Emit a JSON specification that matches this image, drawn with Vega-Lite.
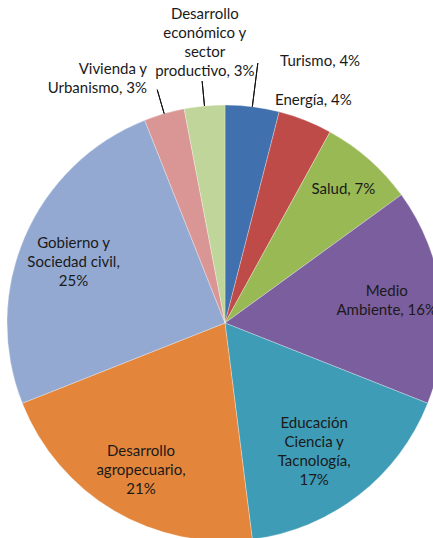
{
  "$schema": "https://vega.github.io/schema/vega-lite/v6.json",
  "width": 450,
  "height": 646,
  "autosize": "none",
  "padding": 0,
  "background": "white",
  "config": {"view": {"stroke": null}, "text": {"font": "Lato", "fontSize": 15, "color": "#1a1a1a", "lineHeight": 19}},
  "data": {"values": [
    {"k": 1, "cat": "Turismo", "label": ["Turismo, 4%"], "value": 4, "grp": "turismo"},
    {"k": 2, "cat": "Energía", "label": ["Energía, 4%"], "value": 4, "grp": "energia"},
    {"k": 3, "cat": "Salud", "label": ["Salud, 7%"], "value": 7, "grp": "in1"},
    {"k": 4, "cat": "Medio Ambiente", "label": ["Medio", "Ambiente, 16%"], "value": 16, "grp": "in2"},
    {"k": 5, "cat": "Educación Ciencia y Tacnología", "label": ["Educación", "Ciencia y", "Tacnología,", "17%"], "value": 17, "grp": "in4"},
    {"k": 6, "cat": "Desarrollo agropecuario", "label": ["Desarrollo", "agropecuario,", "21%"], "value": 21, "grp": "in3"},
    {"k": 7, "cat": "Gobierno y Sociedad civil", "label": ["Gobierno y", "Sociedad civil,", "25%"], "value": 25, "grp": "in3"},
    {"k": 8, "cat": "Vivienda y Urbanismo", "label": ["Vivienda y", "Urbanismo, 3%"], "value": 3, "grp": "vivienda"},
    {"k": 9, "cat": "Desarrollo económico y sector productivo", "label": ["Desarrollo", "económico y", "sector", "productivo, 3%"], "value": 3, "grp": "economico"}
  ]},
  "transform": [
    {"stack": "value", "groupby": [], "sort": [{"field": "k"}], "as": ["v0", "v1"]},
    {"calculate": "(datum.v0 + datum.v1) / 2", "as": "mid"}
  ],
  "layer": [
    {
      "mark": {"type": "arc", "radius": 218, "stroke": "white", "strokeWidth": 0.3},
      "encoding": {
        "theta": {"field": "v0", "type": "quantitative", "scale": {"domain": [0, 100], "range": [0, 6.283185307]}},
        "theta2": {"field": "v1"},
        "color": {"field": "cat", "type": "nominal", "legend": null, "sort": {"field": "k"},
          "scale": {"domain": ["Turismo", "Energía", "Salud", "Medio Ambiente", "Educación Ciencia y Tacnología", "Desarrollo agropecuario", "Gobierno y Sociedad civil", "Vivienda y Urbanismo", "Desarrollo económico y sector productivo"],
            "range": ["#4170AE", "#BE4B48", "#98B954", "#7A5E9E", "#3F9CB6", "#E3863C", "#93A9D2", "#D99694", "#BFD599"]}}
      }
    },
    {
      "transform": [{"filter": "datum.grp == 'vivienda' || datum.grp == 'economico'"}],
      "mark": {"type": "arc", "radius": 218, "radius2": 243, "stroke": "#111", "strokeWidth": 1, "fill": null},
      "encoding": {
        "theta": {"field": "mid", "type": "quantitative", "scale": {"domain": [0, 100], "range": [0, 6.283185307]}},
        "theta2": {"field": "mid"}
      }
    },
    {
      "transform": [{"filter": "datum.grp == 'turismo'"}],
      "mark": {"type": "arc", "radius": 218, "radius2": 262, "stroke": "#111", "strokeWidth": 1, "fill": null},
      "encoding": {
        "theta": {"field": "mid", "type": "quantitative", "scale": {"domain": [0, 100], "range": [0, 6.283185307]}},
        "theta2": {"field": "mid"}
      }
    },
    {
      "transform": [{"filter": "datum.grp == 'in1'"}],
      "mark": {"type": "text", "radius": 179, "align": "center", "baseline": "middle"},
      "encoding": {
        "theta": {"field": "mid", "type": "quantitative", "scale": {"domain": [0, 100], "range": [0, 6.283185307]}},
        "text": {"field": "label"}
      }
    },
    {
      "transform": [{"filter": "datum.grp == 'in2'"}],
      "mark": {"type": "text", "radius": 163, "align": "center", "baseline": "middle", "dy": -12},
      "encoding": {
        "theta": {"field": "mid", "type": "quantitative", "scale": {"domain": [0, 100], "range": [0, 6.283185307]}},
        "text": {"field": "label"}
      }
    },
    {
      "transform": [{"filter": "datum.grp == 'in3'"}],
      "mark": {"type": "text", "radius": 165, "align": "center", "baseline": "middle", "dy": -14},
      "encoding": {
        "theta": {"field": "mid", "type": "quantitative", "scale": {"domain": [0, 100], "range": [0, 6.283185307]}},
        "text": {"field": "label"}
      }
    },
    {
      "transform": [{"filter": "datum.grp == 'in4'"}],
      "mark": {"type": "text", "radius": 152, "align": "center", "baseline": "middle", "dy": -20, "dx": -4},
      "encoding": {
        "theta": {"field": "mid", "type": "quantitative", "scale": {"domain": [0, 100], "range": [0, 6.283185307]}},
        "text": {"field": "label"}
      }
    },
    {
      "transform": [{"filter": "datum.grp == 'energia'"}],
      "mark": {"type": "text", "radius": 240, "align": "center", "baseline": "middle"},
      "encoding": {
        "theta": {"field": "mid", "type": "quantitative", "scale": {"domain": [0, 100], "range": [0, 6.283185307]}},
        "text": {"field": "label"}
      }
    },
    {
      "transform": [{"filter": "datum.grp == 'economico'"}],
      "mark": {"type": "text", "radius": 310, "align": "center", "baseline": "middle", "dx": 9},
      "encoding": {
        "theta": {"field": "mid", "type": "quantitative", "scale": {"domain": [0, 100], "range": [0, 6.283185307]}},
        "text": {"field": "label"}
      }
    },
    {
      "transform": [{"filter": "datum.grp == 'vivienda'"}],
      "mark": {"type": "text", "radius": 265, "align": "right", "baseline": "middle", "dx": -4},
      "encoding": {
        "theta": {"field": "mid", "type": "quantitative", "scale": {"domain": [0, 100], "range": [0, 6.283185307]}},
        "text": {"field": "label"}
      }
    },
    {
      "transform": [{"filter": "datum.grp == 'turismo'"}],
      "mark": {"type": "text", "radius": 264, "align": "left", "baseline": "middle", "dx": 22},
      "encoding": {
        "theta": {"field": "mid", "type": "quantitative", "scale": {"domain": [0, 100], "range": [0, 6.283185307]}},
        "text": {"field": "label"}
      }
    }
  ]
}
